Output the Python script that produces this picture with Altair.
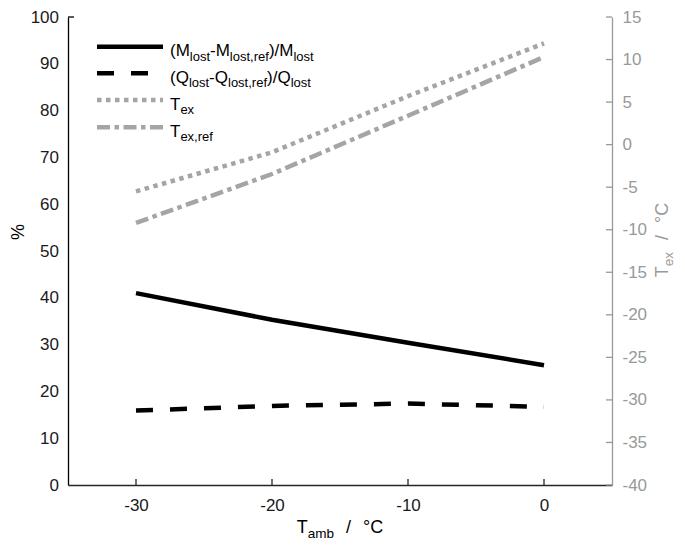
import altair as alt
import pandas as pd

# ---------------- data ----------------
T_amb = [-30, -20, -10, 0]
M_rel = [41.0, 35.3, 30.4, 25.6]
Q_rel = [15.9, 16.9, 17.4, 16.7]
T_ex = [-5.5, -0.9, 5.7, 11.9]
T_ex_ref = [-9.2, -3.45, 3.4, 10.3]

x_ticks = [-30, -20, -10, 0]
left_ticks = list(range(0, 101, 10))
right_ticks = list(range(-40, 16, 5))

legend_rows = [
    [("(M", 0), ("lost", 1), ("-M", 0), ("lost,ref", 1), (")/M", 0), ("lost", 1)],
    [("(Q", 0), ("lost", 1), ("-Q", 0), ("lost,ref", 1), (")/Q", 0), ("lost", 1)],
    [("T", 0), ("ex", 1)],
    [("T", 0), ("ex,ref", 1)],
]
x_title = [("T", 0), ("amb", 1), ("/", 2), ("°C", 2)]
r_title = [("T", 0), ("ex", 1), ("/", 2), ("°C", 2)]
l_title = "%"

# ---------------- layout ----------------
FONT = "Liberation Sans"
GRAY = "#a5a5a5"
AXGRAY = "#999999"
OX, OY = 68, 17          # plot origin on page
W, H = 544, 468

CW = {'(': 333, ')': 333, 'M': 833, 'Q': 778, 'T': 611, '-': 333, '/': 278, ',': 278,
      'l': 222, 'o': 556, 's': 500, 't': 278, 'r': 333, 'e': 556, 'f': 278, 'x': 500,
      'a': 556, 'm': 833, 'b': 556, '°': 400, 'C': 722, '%': 889}


def tw(s, size):
    return sum(CW.get(c, 556) for c in s) / 1000.0 * size


dummy = alt.Data(values=[{}])


def txt(s, x, y, size, color="#000000", angle=0, align="left", baseline="alphabetic"):
    kw = dict(fontSize=size, font=FONT, color=color, align=align, baseline=baseline)
    if angle:
        kw["angle"] = angle
    return alt.Chart(dummy).mark_text(**kw).encode(
        x=alt.value(x), y=alt.value(y), text=alt.value(s))


xscale = alt.Scale(domain=[-35, 5], nice=False, zero=False)
lscale = alt.Scale(domain=[0, 100], nice=False, zero=False)
rscale = alt.Scale(domain=[-40, 15], nice=False, zero=False)

lab = dict(labelFont=FONT, labelFontSize=17, labelFlush=False, grid=False,
           ticks=False, tickSize=0, domainWidth=1.3, title=None,
           labelExpr="'' + datum.value")

xaxis = alt.Axis(values=x_ticks, domainColor="#262626", labelColor="#1a1a1a",
                 labelPadding=12, **lab)
laxis = alt.Axis(values=left_ticks, orient="left", domainColor="#000000",
                 labelColor="#1a1a1a", labelPadding=9.5, **lab)
raxis = alt.Axis(values=right_ticks, orient="right", domainColor=AXGRAY,
                 labelColor=AXGRAY, labelPadding=10, **lab)

df_pct = pd.DataFrame({"T": T_amb, "M": M_rel, "Q": Q_rel})
df_tex = pd.DataFrame({"T": T_amb, "Tex": T_ex, "Texref": T_ex_ref})

X = alt.X("T:Q", scale=xscale, axis=xaxis)

m_line = alt.Chart(df_pct).mark_line(color="#000000", strokeWidth=4.5).encode(
    x=X, y=alt.Y("M:Q", scale=lscale, axis=laxis))
q_line = alt.Chart(df_pct).mark_line(color="#000000", strokeWidth=4.5,
                                     strokeDash=[17, 17]).encode(
    x=X, y=alt.Y("Q:Q", scale=lscale, axis=laxis))
ltick = alt.Chart(pd.DataFrame({"v": [100]})).mark_rule(color="#000000", strokeWidth=1.3).encode(
    y=alt.Y("v:Q", scale=lscale, axis=laxis), x=alt.value(0), x2=alt.value(6))

tex_line = alt.Chart(df_tex).mark_line(color=GRAY, strokeWidth=4.5,
                                       strokeDash=[4.5, 4.5]).encode(
    x=X, y=alt.Y("Tex:Q", scale=rscale, axis=raxis))
texref_line = alt.Chart(df_tex).mark_line(color=GRAY, strokeWidth=4.5,
                                          strokeDash=[13, 4.5, 4.5, 4.5]).encode(
    x=X, y=alt.Y("Texref:Q", scale=rscale, axis=raxis))
rticks = alt.Chart(pd.DataFrame({"v": right_ticks})).mark_rule(color=AXGRAY, strokeWidth=1.3).encode(
    y=alt.Y("v:Q", scale=rscale, axis=raxis), x=alt.value(W - 6), x2=alt.value(W))

xticks = alt.Chart(pd.DataFrame({"T": x_ticks})).mark_rule(color="#262626", strokeWidth=1.3).encode(
    x=X, y=alt.value(H - 6), y2=alt.value(H))

left = alt.layer(m_line, q_line, ltick, xticks)
right = alt.layer(tex_line, texref_line, rticks)

extras = []

# legend
leg_line_y = [46.7 - OY, 73.3 - OY, 100.0 - OY, 127.3 - OY]
leg_styles = [("#000000", None), ("#000000", [17, 17]), (GRAY, [4.5, 4.5]),
              (GRAY, [13, 4.5, 4.5, 4.5])]
MAIN, SUB = 17, 13
for yl, (col, dash), segs in zip(leg_line_y, leg_styles, legend_rows):
    kw = dict(color=col, strokeWidth=4.5)
    if dash:
        kw["strokeDash"] = dash
    extras.append(alt.Chart(dummy).mark_rule(**kw).encode(
        x=alt.value(97 - OX), x2=alt.value(163 - OX), y=alt.value(yl)))
    cx = 170 - OX
    base = yl + 9.5
    for s, sub in segs:
        size = SUB if sub else MAIN
        extras.append(txt(s, cx, base + (4.5 if sub else 0), size))
        cx += tw(s, size)

# x axis title
TM, TS = 18, 13.5
gap = 12
total = 0
for s, k in x_title:
    total += tw(s, TS if k == 1 else TM) + (gap if k == 2 else 0)
cx = 340 - OX - total / 2
for s, k in x_title:
    if k == 2:
        cx += gap
    size = TS if k == 1 else TM
    extras.append(txt(s, cx, 533 - OY + (4.5 if k == 1 else 0), size))
    cx += tw(s, size)

# right axis title (rotated)
total = 0
for s, k in r_title:
    total += tw(s, TS if k == 1 else TM) + (gap if k == 2 else 0)
cy = 240 - OY + total / 2
for s, k in r_title:
    if k == 2:
        cy -= gap
    size = TS if k == 1 else TM
    extras.append(txt(s, 668 - OX + (4.5 if k == 1 else 0), cy, size,
                      color=AXGRAY, angle=270))
    cy -= tw(s, size)

# left axis title
extras.append(txt(l_title, 19 - OX, 232 - OY, 18, angle=270,
                  align="center", baseline="middle"))

chart = alt.layer(left, right, *extras).resolve_scale(y="independent").properties(
    width=W, height=H,
    autosize=alt.AutoSizeParams(type="none"),
    padding={"left": OX - 8, "top": OY - 8, "right": 677 - OX - W, "bottom": 547 - OY - H},
).configure_view(stroke=None)

chart.save("out.html", embed_options={"renderer": "svg", "actions": False})
